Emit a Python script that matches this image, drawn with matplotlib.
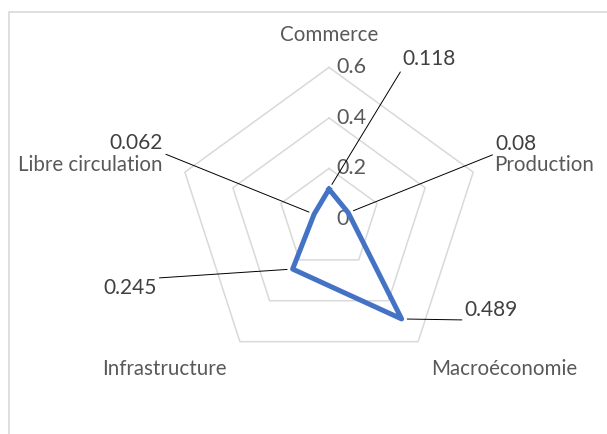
import numpy as np
import matplotlib.pyplot as plt
from matplotlib.patches import Rectangle

categories = ['Commerce', 'Production', 'Macroéconomie', 'Infrastructure', 'Libre circulation']
values = [0.118, 0.08, 0.489, 0.245, 0.062]
value_labels = ['0.118', '0.08', '0.489', '0.245', '0.062']
ring_values = [0, 0.2, 0.4, 0.6]
ring_labels = ['0', '0.2', '0.4', '0.6']

plt.rcParams['font.family'] = ['Lato', 'DejaVu Sans']

fig = plt.figure(figsize=(6.07, 4.34), dpi=100)
ax = fig.add_axes([0.2923, 0.1461, 0.4995, 0.6986], projection='polar')
ax.set_theta_offset(np.pi / 2)
ax.set_theta_direction(-1)
ax.set_ylim(0, 0.6)
ax.axis('off')

angles = np.linspace(0, 2 * np.pi, len(categories), endpoint=False)
closed = np.append(angles, angles[0])

# pentagon grid
for r in ring_values[1:]:
    ax.plot(closed, [r] * len(closed), color='#D9D9D9', lw=1.1, clip_on=False, zorder=1)

# radial tick labels
for r, lab in zip(ring_values, ring_labels):
    ax.annotate(lab, xy=(0, r), xytext=(7, 0), textcoords='offset pixels',
                ha='left', va='center', color='#595959', fontsize=15.5, zorder=2)

# data line
ax.plot(closed, values + [values[0]], color='#4472C4', lw=3.6,
        solid_joinstyle='round', clip_on=False, zorder=3)

# category labels (offsets from outer vertex, in pixels)
cat_pos = [(0, 32, 'center'), (21, 7, 'left'), (13, -27, 'left'),
           (-13, -27, 'right'), (-22, 7, 'right')]
for ang, lab, (dx, dy, ha) in zip(angles, categories, cat_pos):
    ax.annotate(lab, xy=(ang, 0.6), xytext=(dx, dy), textcoords='offset pixels',
                ha=ha, va='center', color='#595959', fontsize=14.8, annotation_clip=False)

# data labels with leader lines
lab_pos = [(73, 120, 'left', 'bottom', (0, 0)),
           (147, 59, 'left', 'bottom', (0, 0)),
           (63, -1, 'left', 'bottom', (0, 0)),
           (-136, -9, 'right', 'top', (1, 1)),
           (-151, 61, 'right', 'bottom', (1, 0))]
for ang, v, lab, (dx, dy, ha, va, rp) in zip(angles, values, value_labels, lab_pos):
    ax.annotate(lab, xy=(ang, v), xytext=(dx, dy), textcoords='offset pixels',
                ha=ha, va=va, color='#404040', fontsize=15, annotation_clip=False,
                arrowprops=dict(arrowstyle='-', color='black', lw=0.7,
                                shrinkA=0, shrinkB=4, relpos=rp))

# chart area border
fig.add_artist(Rectangle((9 / 607, -0.1), 1.0, 1.1 - 12 / 434, transform=fig.transFigure,
                         fill=False, edgecolor='#D9D9D9', lw=1.2))

fig.savefig('out.png', dpi=100)
